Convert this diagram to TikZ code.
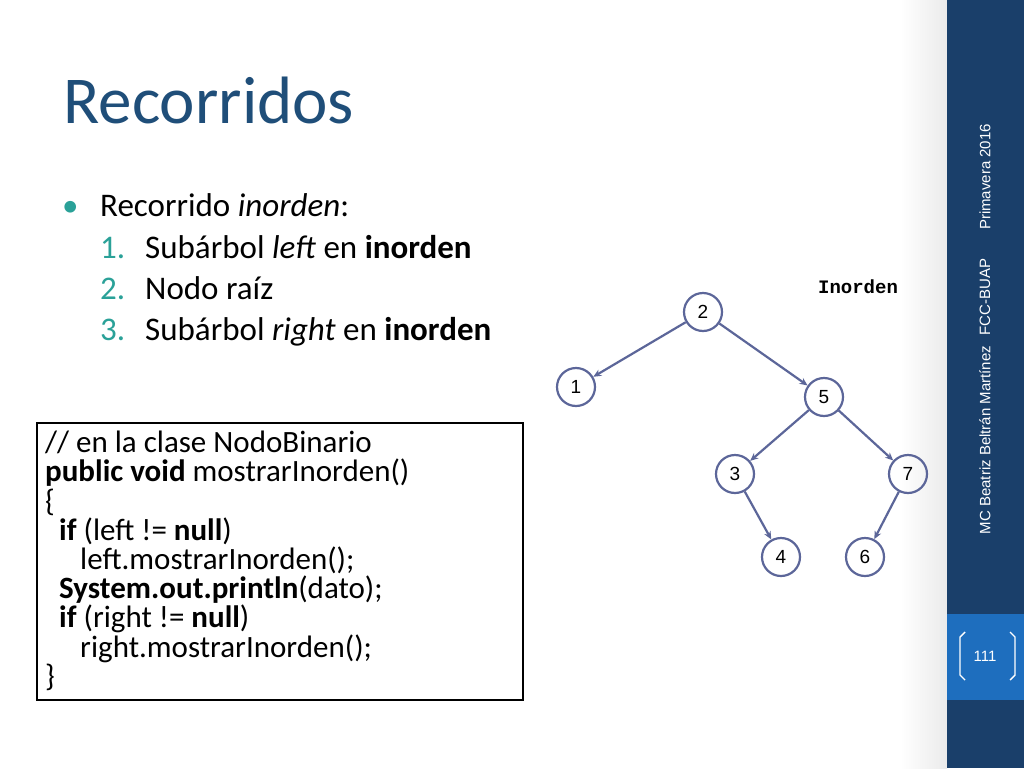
\documentclass[tikz,border=0pt]{standalone}
\usepackage{fontspec}
\setmainfont{Carlito}
\newfontfamily\arialf{Liberation Sans}
\newfontfamily\courf{Liberation Mono}
\usetikzlibrary{arrows.meta}
\definecolor{side}{HTML}{1A3F6A}
\definecolor{sidel}{HTML}{1E6EBE}
\definecolor{titc}{HTML}{1F4E79}
\definecolor{teal}{HTML}{2AA198}
\definecolor{treec}{HTML}{5C6699}
\tikzset{tn/.style={circle,draw=treec,line width=2.2pt,minimum size=38pt,inner sep=0pt,font=\arialf\fontsize{19}{19}\selectfont},
 te/.style={draw=treec,line width=2.2pt,-{Stealth[length=8pt,width=7pt]}},
 sidetxt/.style={rotate=90,text=white,font=\arialf\fontsize{15}{15}\selectfont},
 big/.style={font=\fontsize{33}{34}\selectfont,anchor=base west,inner sep=0pt}}
\begin{document}
\begin{tikzpicture}[x=1pt,y=-1pt]
\useasboundingbox (0,0) rectangle (1024,768);
\fill[white] (0,0) rectangle (1024,768);
\shade[left color=white,right color=black!8] (900,0) rectangle (947,768);
\fill[side] (947,0) rectangle (1024,768);
\fill[sidel] (947,614) rectangle (1024,700);
\node[sidetxt] (s1) at (985,177) {Primavera 2016};
\node[sidetxt] (s2) at (985,297) {FCC-BUAP};
\node[sidetxt] (s3) at (985,440) {MC Beatriz Beltrán Martínez};
\node[text=white,font=\arialf\fontsize{15}{15}\selectfont] (pg) at (985,656) {111};
\draw[white,line width=1.4pt] (965,632) -- (960,637) -- (960,675) -- (965,680);
\draw[white,line width=1.4pt] (1010,632) -- (1015,637) -- (1015,675) -- (1010,680);
\node[anchor=west,text=titc,font=\fontsize{67}{67}\selectfont] (title) at (60,100) {Recorridos};
\node[big,text=teal] (b) at (62,216) {•};
\node[big] (l0) at (100,216) {Recorrido \textit{inorden}:};
\node[big,text=teal] (n1) at (100,258) {1.};
\node[big] (t1) at (145,258) {Subárbol \textit{left} en \textbf{inorden}};
\node[big,text=teal] (n2) at (100,299) {2.};
\node[big] (t2) at (145,299) {Nodo raíz};
\node[big,text=teal] (n3) at (100,340) {3.};
\node[big] (t3) at (145,340) {Subárbol \textit{right} en \textbf{inorden}};
\draw[line width=1.3pt] (37,423) rectangle (523,700);
\node[anchor=north west,align=left,inner sep=0pt,font=\fontsize{31}{29.2}\selectfont] (code) at (45,431) {%
// en la clase NodoBinario\\
\textbf{public void} mostrarInorden()\\
\{\\
\ \ \textbf{if} (left != \textbf{null})\\
\ \ \ \ \ left.mostrarInorden();\\
\ \ \textbf{System.out.println}(dato);\\
\ \ \textbf{if} (right != \textbf{null})\\
\ \ \ \ \ right.mostrarInorden();\\
\}};
\node[font=\courf\bfseries\fontsize{19}{19}\selectfont] (ino) at (858,287) {Inorden};
\node[tn] (a2) at (703,312) {2};
\node[tn] (a1) at (576,387) {1};
\node[tn] (a5) at (824,397) {5};
\node[tn] (a3) at (735,474) {3};
\node[tn] (a7) at (908,474) {7};
\node[tn] (a4) at (781,557) {4};
\node[tn] (a6) at (865,557) {6};
\draw[te] (a2) -- (a1);
\draw[te] (a2) -- (a5);
\draw[te] (a5) -- (a3);
\draw[te] (a5) -- (a7);
\draw[te] (a3) -- (a4);
\draw[te] (a7) -- (a6);
\end{tikzpicture}
\end{document}
